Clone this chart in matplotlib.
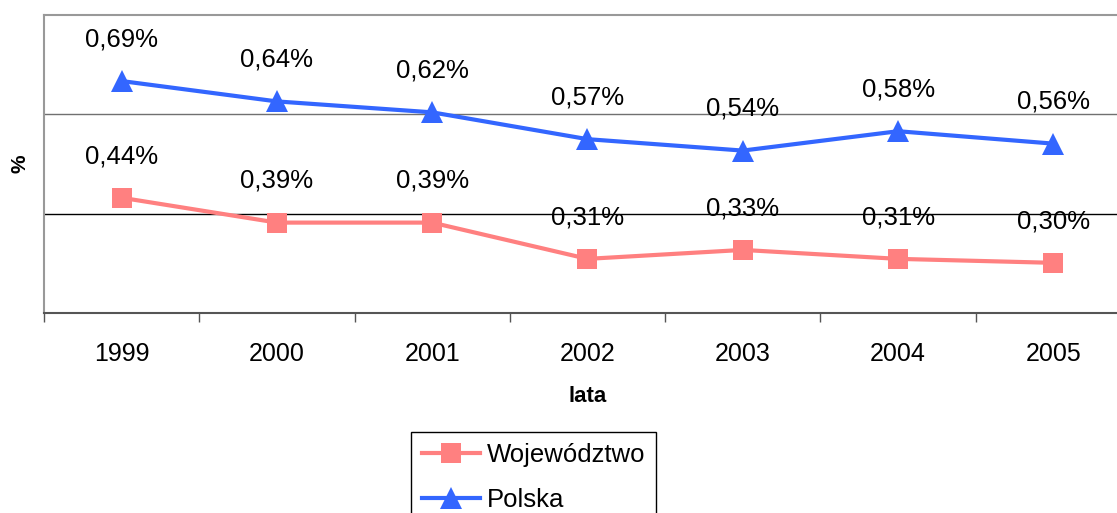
import matplotlib
matplotlib.use("Agg")
import matplotlib.pyplot as plt
from matplotlib.ticker import FixedLocator

plt.rcParams['font.family'] = ['Liberation Sans', 'DejaVu Sans']

years = ["1999", "2000", "2001", "2002", "2003", "2004", "2005"]
wojewodztwo = [0.432, 0.382, 0.382, 0.309, 0.327, 0.309, 0.301]
polska = [0.667, 0.626, 0.604, 0.550, 0.527, 0.566, 0.541]
woj_labels = ["0,44%", "0,39%", "0,39%", "0,31%", "0,33%", "0,31%", "0,30%"]
pol_labels = ["0,69%", "0,64%", "0,62%", "0,57%", "0,54%", "0,58%", "0,56%"]
grid_values = [0.4, 0.6]

W, H = 1117, 513
fig = plt.figure(figsize=(W / 100, H / 100), dpi=100)
left, right, top, bottom = 44, 1131, 15, 313
ax = fig.add_axes([left / W, 1 - bottom / H, (right - left) / W, (bottom - top) / H])

x = list(range(len(years)))
c_woj = '#FF8080'
c_pol = '#3366FF'

for gv, gc in zip(grid_values, ['black', '#707070']):
    ax.axhline(gv, color=gc, lw=1.0, zorder=1)

ax.plot(x, wojewodztwo, color=c_woj, lw=3, marker='s', ms=14.5, mew=0,
        label='Województwo', zorder=3)
ax.plot(x, polska, color=c_pol, lw=3, marker='^', ms=16, mew=0,
        label='Polska', zorder=3)

for xi, v, t in zip(x, wojewodztwo, woj_labels):
    ax.annotate(t, (xi, v), xytext=(0, 30), textcoords='offset points',
                ha='center', va='center', fontsize=18.5, color='black', zorder=4)
for xi, v, t in zip(x, polska, pol_labels):
    ax.annotate(t, (xi, v), xytext=(0, 30), textcoords='offset points',
                ha='center', va='center', fontsize=18.5, color='black', zorder=4)

ax.set_xlim(-0.5, len(years) - 0.5)
ax.set_ylim(0.2, 0.8)
ax.set_yticks([])

ax.set_xticks(x)
ax.set_xticklabels(years, fontsize=18)
ax.tick_params(axis='x', which='major', length=0, pad=21)
ax.xaxis.set_minor_locator(FixedLocator([i - 0.5 for i in range(len(years) + 1)]))
ax.tick_params(axis='x', which='minor', length=6.5, width=1, color='#555555', direction='out')

for s in ['top', 'left']:
    ax.spines[s].set_color('#999999')
    ax.spines[s].set_linewidth(1.5)
ax.spines['right'].set_visible(False)
ax.spines['bottom'].set_color('#555555')
ax.spines['bottom'].set_linewidth(1.5)

ax.set_xlabel('lata', fontsize=16, fontweight='bold')
ax.xaxis.set_label_coords(0.5, -(396 - bottom) / (bottom - top))
ax.xaxis.label.set_va('center')
ax.set_ylabel('%', fontsize=15, fontweight='bold')
ax.yaxis.set_label_coords(-(44 - 20) / (right - left), 0.5)
ax.yaxis.label.set_va('center')

leg = fig.legend(loc='upper left', bbox_to_anchor=(411 / W, 1 - 432 / H),
                 borderaxespad=0, fontsize=18.5, frameon=True, fancybox=False,
                 edgecolor='black', framealpha=1, handlelength=2.25,
                 handletextpad=0.27, borderpad=0.43, labelspacing=0.8,
                 numpoints=1)
leg.get_frame().set_linewidth(1.0)

fig.savefig('out.png', dpi=100)
